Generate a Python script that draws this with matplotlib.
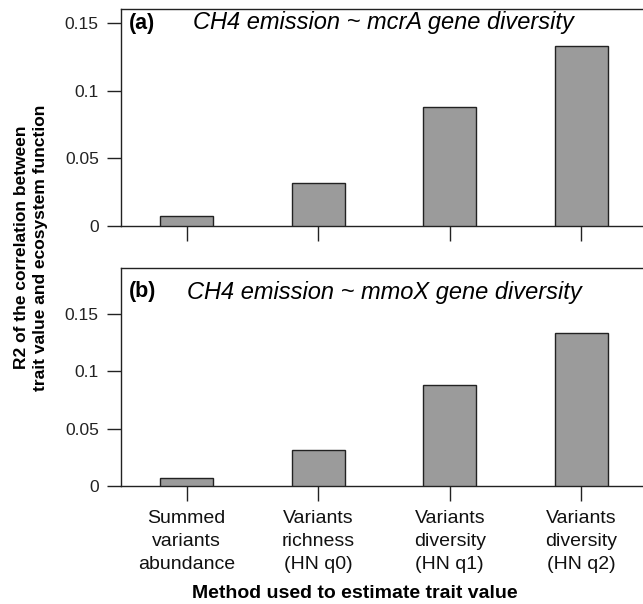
import matplotlib
matplotlib.use("Agg")
import matplotlib.pyplot as plt
import numpy as np

plt.rcParams['font.family'] = ['Liberation Sans', 'DejaVu Sans']

categories = ["Summed\nvariants\nabundance", "Variants\nrichness\n(HN q0)",
              "Variants\ndiversity\n(HN q1)", "Variants\ndiversity\n(HN q2)"]
r2_mcrA = [0.0071, 0.032, 0.088, 0.1333]
r2_mmoX = [0.0070, 0.0317, 0.088, 0.1330]
yticks = [0, 0.05, 0.1, 0.15]
yticklabels = ["0", "0.05", "0.1", "0.15"]

W, H = 643, 604
fig = plt.figure(figsize=(W / 100, H / 100), dpi=100)

def px_axes(left, top, right, bottom):
    return fig.add_axes([left / W, 1 - bottom / H, (right - left) / W, (bottom - top) / H])

bar_color = "#9b9b9b"
x = np.arange(len(categories))

panels = [
    (9, 226, 0.1603, r2_mcrA, "(a)", "CH4 emission ~ mcrA gene diversity", 23, 193, 129),
    (268, 486, 0.190, r2_mmoX, "(b)", "CH4 emission ~ mmoX gene diversity", 292, 187, 129),
]

left_px = 121
right_px = 643
spacing = 131.5
xmax = -0.5 + (right_px - left_px) / spacing

axes = []
for (top, bottom, ytop, vals, lab, title, ty, tx, lx) in panels:
    ax = px_axes(left_px, top, right_px, bottom)
    ax.bar(x, vals, width=0.4, color=bar_color, edgecolor="#222222", linewidth=1.0, zorder=3)
    ax.set_xlim(-0.5, xmax)
    ax.set_ylim(0, ytop)
    ax.set_yticks(yticks)
    ax.set_yticklabels(yticklabels)
    ax.set_xticks(x)
    ax.spines['right'].set_visible(False)
    for s in ['left', 'top', 'bottom']:
        ax.spines[s].set_linewidth(1.0)
        ax.spines[s].set_color("#222222")
    ax.tick_params(axis='y', length=10, width=1.0, pad=6, labelsize=12.5, colors="#222222")
    ax.tick_params(axis='x', length=10.5, width=1.0, pad=7, labelsize=14, colors="#222222")
    ax.set_xticklabels([])
    fig.text(lx / W, 1 - ty / H, lab, fontsize=15.5, fontweight='bold', ha='left', va='center')
    fig.text(tx / W, 1 - ty / H, title, fontsize=17, fontstyle='italic', ha='left', va='center')
    axes.append(ax)

axes[1].set_xticklabels(categories, linespacing=1.45)
for t in axes[1].get_xticklabels():
    t.set_color("#111111")

fig.text(31 / W, 1 - 247.5 / H,
         "R2 of the correlation between\ntrait value and ecosystem function",
         rotation=90, ha='center', va='center', fontsize=12.5, fontweight='bold', linespacing=1.3)
fig.text(355 / W, 1 - 594 / H, "Method used to estimate trait value",
         ha='center', va='center', fontsize=14, fontweight='bold')

fig.savefig("out.png", dpi=100)
